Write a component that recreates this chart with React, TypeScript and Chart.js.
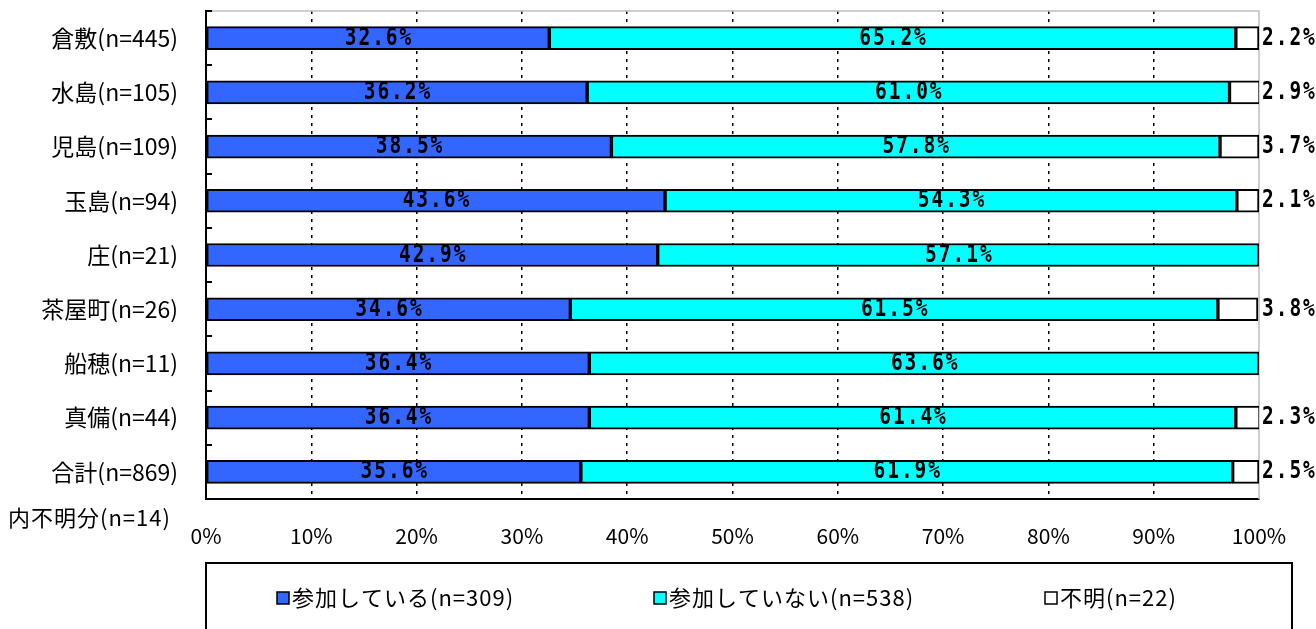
import React, { useEffect, useRef } from "react";
import { Chart, registerables } from "chart.js";

Chart.register(...registerables);

const categories = [
  "倉敷(n=445)",
  "水島(n=105)",
  "児島(n=109)",
  "玉島(n=94)",
  "庄(n=21)",
  "茶屋町(n=26)",
  "船穂(n=11)",
  "真備(n=44)",
  "合計(n=869)",
];
const participating = [32.6, 36.2, 38.5, 43.6, 42.9, 34.6, 36.4, 36.4, 35.6];
const notParticipating = [65.2, 61.0, 57.8, 54.3, 57.1, 61.5, 63.6, 61.4, 61.9];
const unknown = [2.2, 2.9, 3.7, 2.1, 0, 3.8, 0, 2.3, 2.5];
const seriesNames = ["参加している(n=309)", "参加していない(n=538)", "不明(n=22)"];
const seriesColors = ["#3366FF", "#00FFFF", "#FFFFFF"];
const xTickValues = [0, 10, 20, 30, 40, 50, 60, 70, 80, 90, 100];
const noteLabel = "内不明分(n=14)";

const JP = "'Noto Sans CJK JP', 'Noto Sans', sans-serif";

function drawLabel(ctx: any, txt: string, x: number, y: number, align: "left" | "center") {
  const sx = 0.78;
  const ls = 2.5;
  ctx.save();
  ctx.font = "bold 25px 'DejaVu Sans Mono', monospace";
  ctx.letterSpacing = ls + "px";
  ctx.textBaseline = "middle";
  ctx.textAlign = "left";
  const w = (ctx.measureText(txt).width - ls) * sx;
  const startX = align === "center" ? x - w / 2 : x;
  ctx.translate(startX, y);
  ctx.scale(sx, 1);
  ctx.fillStyle = "#000";
  ctx.fillText(txt, 0, 0);
  ctx.restore();
}

const overlayPlugin = {
  id: "overlay",
  beforeDatasetsDraw(chart: any) {
    const { ctx, chartArea } = chart;
    ctx.save();
    ctx.strokeStyle = "#BFBFBF";
    ctx.lineWidth = 1.5;
    ctx.beginPath();
    ctx.moveTo(chartArea.left, chartArea.top);
    ctx.lineTo(chartArea.right, chartArea.top);
    ctx.lineTo(chartArea.right, chartArea.bottom);
    ctx.stroke();
    ctx.restore();
  },
  afterDatasetsDraw(chart: any) {
    const { ctx, chartArea } = chart;
    ctx.save();
    const yScale = chart.scales.y;
    ctx.strokeStyle = "#000";
    ctx.lineWidth = 2;
    const n = categories.length;
    for (let i = 0; i <= n; i++) {
      const y = i === n ? chartArea.bottom : yScale.getPixelForValue(i - 0.5);
      ctx.beginPath();
      ctx.moveTo(chartArea.left, Math.round(y));
      ctx.lineTo(chartArea.left + 6, Math.round(y));
      ctx.stroke();
    }
    ctx.restore();
    chart.data.datasets.forEach((ds: any, di: number) => {
      const meta = chart.getDatasetMeta(di);
      meta.data.forEach((el: any, j: number) => {
        const v = ds.data[j];
        if (!v) return;
        const txt = v.toFixed(1) + "%";
        if (di === 2) {
          drawLabel(ctx, txt, chartArea.right + 3, el.y, "left");
        } else {
          drawLabel(ctx, txt, (el.x + el.base) / 2, el.y, "center");
        }
      });
    });
  },
  afterDraw(chart: any) {
    const { ctx, chartArea } = chart;
    ctx.save();
    ctx.font = `22px ${JP}`;
    (ctx as any).letterSpacing = "1px";
    ctx.fillStyle = "#000";
    ctx.textAlign = "left";
    ctx.textBaseline = "middle";
    ctx.fillText(noteLabel, 8, 518);
    ctx.strokeStyle = "#000";
    ctx.lineWidth = 2;
    ctx.strokeRect(chartArea.left, 563, 1292 - chartArea.left, 100);
    const itemX = [277, 654, 1045];
    seriesNames.forEach((name, i) => {
      const x = itemX[i];
      ctx.fillStyle = seriesColors[i];
      ctx.fillRect(x, 592, 12, 12);
      ctx.lineWidth = 1.5;
      ctx.strokeStyle = "#000";
      ctx.strokeRect(x, 592, 12, 12);
      ctx.fillStyle = "#000";
      ctx.font = `22px ${JP}`;
      (ctx as any).letterSpacing = "1px";
      ctx.textAlign = "left";
      ctx.fillText(name, x + 15, 598);
    });
    ctx.restore();
  },
};

export default function App() {
  const ref = useRef<HTMLCanvasElement>(null);
  useEffect(() => {
    const canvas = ref.current!;
    const chart = new Chart(canvas, {
      type: "bar",
      data: {
        labels: categories,
        datasets: [participating, notParticipating, unknown].map((d, i) => ({
          label: seriesNames[i],
          data: d,
          backgroundColor: seriesColors[i],
          borderColor: "#000",
          borderWidth: 2,
          borderSkipped: false,
          barThickness: 23,
        })),
      },
      options: {
        indexAxis: "y",
        animation: false,
        responsive: false,
        devicePixelRatio: 1,
        layout: { padding: { top: 11, right: 57, left: 0, bottom: 0 } },
        plugins: { legend: { display: false }, tooltip: { enabled: false } },
        scales: {
          x: {
            stacked: true,
            min: 0,
            max: 100,
            afterFit(scale: any) {
              scale.height = 130;
              scale.paddingLeft = 0;
              scale.paddingRight = 0;
            },
            afterBuildTicks(scale: any) {
              scale.ticks = xTickValues.map((v) => ({ value: v }));
            },
            ticks: {
              callback: (v: any) => v + "%",
              font: { size: 21, family: JP },
              color: "#000",
              padding: 24,
              maxRotation: 0,
            },
            grid: {
              drawTicks: false,
              lineWidth: 1.5,
              color: (c: any) =>
                c.tick && (c.tick.value === 0 || c.tick.value === 100) ? "rgba(0,0,0,0)" : "#000",
            },
            border: { display: true, color: "#000", width: 2, dash: [3, 5] },
          },
          y: {
            stacked: true,
            afterFit(scale: any) {
              scale.width = 206;
              scale.paddingTop = 0;
              scale.paddingBottom = 0;
            },
            ticks: {
              font: { size: 23, family: JP },
              color: "#000",
              padding: 28,
            },
            grid: { display: false, drawTicks: false },
            border: { display: true, color: "#000", width: 2 },
          },
        },
      },
      plugins: [overlayPlugin],
    } as any);
    return () => chart.destroy();
  }, []);
  return (
    <div style={{ position: "absolute", left: 0, top: 0, width: 1316, height: 629, background: "#fff" }}>
      <canvas ref={ref} width={1316} height={629} style={{ display: "block" }} />
    </div>
  );
}
